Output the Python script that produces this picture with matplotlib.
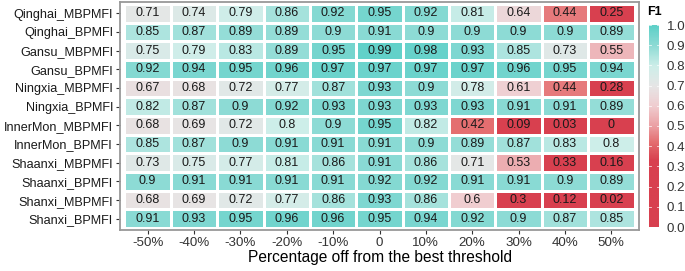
import numpy as np
import matplotlib
matplotlib.use("Agg")
import matplotlib.pyplot as plt
from matplotlib.colors import LinearSegmentedColormap, Normalize

plt.rcParams['font.family'] = ['Liberation Sans', 'DejaVu Sans']

rows = ['Qinghai_MBPMFI', 'Qinghai_BPMFI', 'Gansu_MBPMFI', 'Gansu_BPMFI',
        'Ningxia_MBPMFI', 'Ningxia_BPMFI', 'InnerMon_MBPMFI', 'InnerMon_BPMFI',
        'Shaanxi_MBPMFI', 'Shaanxi_BPMFI', 'Shanxi_MBPMFI', 'Shanxi_BPMFI']
cols = ['-50%', '-40%', '-30%', '-20%', '-10%', '0', '10%', '20%', '30%', '40%', '50%']

f1 = [
    [0.71, 0.74, 0.79, 0.86, 0.92, 0.95, 0.92, 0.81, 0.64, 0.44, 0.25],
    [0.85, 0.87, 0.89, 0.89, 0.9, 0.91, 0.9, 0.9, 0.9, 0.9, 0.89],
    [0.75, 0.79, 0.83, 0.89, 0.95, 0.99, 0.98, 0.93, 0.85, 0.73, 0.55],
    [0.92, 0.94, 0.95, 0.96, 0.97, 0.97, 0.97, 0.97, 0.96, 0.95, 0.94],
    [0.67, 0.68, 0.72, 0.77, 0.87, 0.93, 0.9, 0.78, 0.61, 0.44, 0.28],
    [0.82, 0.87, 0.9, 0.92, 0.93, 0.93, 0.93, 0.93, 0.91, 0.91, 0.89],
    [0.68, 0.69, 0.72, 0.8, 0.9, 0.95, 0.82, 0.42, 0.09, 0.03, 0],
    [0.85, 0.87, 0.9, 0.91, 0.91, 0.91, 0.9, 0.89, 0.87, 0.83, 0.8],
    [0.73, 0.75, 0.77, 0.81, 0.86, 0.91, 0.86, 0.71, 0.53, 0.33, 0.16],
    [0.9, 0.91, 0.91, 0.91, 0.91, 0.92, 0.92, 0.91, 0.91, 0.9, 0.89],
    [0.68, 0.69, 0.72, 0.77, 0.86, 0.93, 0.86, 0.6, 0.3, 0.12, 0.02],
    [0.91, 0.93, 0.95, 0.96, 0.96, 0.95, 0.94, 0.92, 0.9, 0.87, 0.85],
]
z = np.array(f1)

cmap = LinearSegmentedColormap.from_list('f1', [
    (0.0, '#D8404F'), (0.33, '#D8404F'), (0.42, '#E46E70'), (0.5, '#EBA0A4'),
    (0.6, '#F0CDD0'), (0.7, '#E6E6E6'), (0.8, '#CDEEE9'), (0.9, '#8EDBD5'),
    (1.0, '#5ED0C8')])
norm = Normalize(0, 1)

W, H = 685, 271
fig = plt.figure(figsize=(W / 100, H / 100), dpi=100)
ax = fig.add_axes([120 / W, (H - 230) / H, 519 / W, 228 / H])

nr, nc = z.shape
ax.pcolormesh(np.arange(nc + 1) - 0.5, np.arange(nr + 1) - 0.5, z, cmap=cmap, norm=norm,
              edgecolors='white', linewidth=1.0)
for i in range(nr):
    for j in range(nc):
        ax.text(j, i, f"{z[i, j]:g}", ha='center', va='center', fontsize=9, color='#1a1a1a')

ax.set_xlim(-0.597, nc - 0.5 + 0.097)
ax.set_ylim(nr - 0.5 + 0.1, -0.5 - 0.1)
ax.set_xticks(range(nc))
ax.set_xticklabels(cols, fontsize=9.6, color='#333333')
ax.set_yticks(range(nr))
ax.set_yticklabels(rows, fontsize=9.1, color='#1a1a1a')
ax.tick_params(length=3, width=0.8, color='#333333', pad=2)
ax.set_xlabel('Percentage off from the best threshold', fontsize=11.2, labelpad=1)
for s in ax.spines.values():
    s.set_color('#999999')
    s.set_linewidth(1.3)

# colorbar
cax = fig.add_axes([649 / W, (H - 227) / H, 10 / W, 202 / H])
grad = np.linspace(0, 1, 300).reshape(-1, 1)
cax.imshow(grad, cmap=cmap, norm=norm, aspect='auto', origin='lower', extent=[0, 1, 0, 1])
cax.set_xticks([])
cax.set_yticks(np.arange(0, 1.01, 0.1))
cax.set_yticklabels([f"{v:.1f}" for v in np.arange(0, 1.01, 0.1)], fontsize=9.6, color='#333333')
cax.yaxis.tick_right()
cax.tick_params(axis='y', length=0, pad=5.5)
for v in np.arange(0, 1.01, 0.1):
    cax.plot([0, 0.2], [v, v], color='white', lw=0.6, alpha=0.8)
    cax.plot([0.8, 1], [v, v], color='white', lw=0.6, alpha=0.8)
cax.set_xlim(0, 1)
cax.set_ylim(0, 1)
for s in cax.spines.values():
    s.set_visible(False)
fig.text(647 / W, (H - 12) / H, 'F1', fontsize=9, fontweight='bold', va='center', ha='left')

fig.savefig('out.png', dpi=100)
